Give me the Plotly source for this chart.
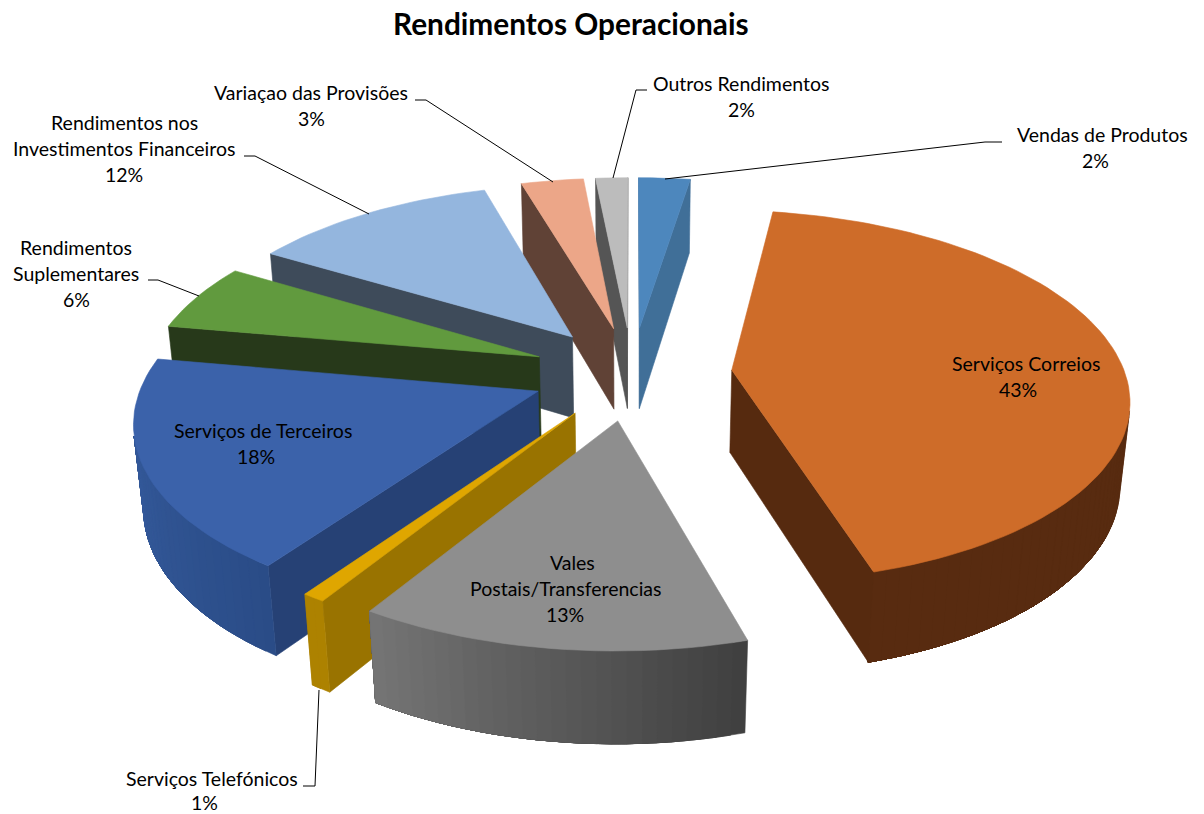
import math
import plotly.graph_objects as go

# --- data ---
categories = ["Vendas de Produtos", "Serviços Correios", "Vales Postais/Transferencias",
              "Serviços Telefónicos", "Serviços de Terceiros", "Rendimentos Suplementares",
              "Rendimentos nos Investimentos Financeiros", "Variaçao das Provisões", "Outros Rendimentos"]
values = [2.48, 43.22, 13.45, 0.8, 18.2, 5.85, 11.9, 3.0, 1.55]
label_lines = [["Vendas de Produtos"], ["Serviços Correios"], ["Vales", "Postais/Transferencias"],
               ["Serviços Telefónicos"], ["Serviços de Terceiros"], ["Rendimentos", "Suplementares"],
               ["Rendimentos nos", "Investimentos Financeiros"], ["Variaçao das Provisões"], ["Outros Rendimentos"]]

# --- style ---
top_colors = ["#4d87bd", "#ce6c29", "#8e8e8e", "#dfa600", "#3b62aa", "#619a3e", "#94b6de", "#eca688", "#bcbcbc"]
end_wall = ["#406f98", "#562a0f", "#555555", "#997300", "#264175", "#27391a", "#3e4b5a", "#604236", "#555555"]
start_wall = ["#406f98", "#562a0f", "#555555", "#997300", "#264175", "#27391a", "#3e4b5a", "#604236", "#555555"]
outer_from = ["#406f98", "#582b10", "#3f3f3f", "#ad8200", "#2a4c87", "#27391a", "#3e4b5a", "#604236", "#555555"]
outer_to = ["#406f98", "#582b10", "#757575", "#ad8200", "#3a61a5", "#27391a", "#3e4b5a", "#604236", "#555555"]
# centre of each text line, the percentage last
label_xy = [[(1102, 134), (1095, 160)], [(1026, 363), (1018, 389)], [(572, 562), (565, 588), (565, 614)],
            [(212, 778), (204, 802)], [(263, 430), (256, 456)], [(76, 247), (76, 273), (76, 299)],
            [(124, 122), (124, 148), (124, 174)], [(311, 92), (311, 118)], [(741, 83), (741, 109)]]
leaders = [[(665, 179), (985, 142), (1002, 142)], None, None, [(319, 690), (315, 786), (303, 786)], None,
           [(199, 296), (158, 280), (148, 280)], [(369, 214), (255, 156), (244, 156)],
           [(553, 182), (426, 100), (415, 100)], [(613, 178), (636, 90), (647, 90)]]
FONT = "Lato"
FS = 19.5

# --- projection ---
CX, CY, A, B, K, KZ, H, EXPL = 632, 373, 393, 183, 0.14, 0.02, 84, 0.255


def proj(X, Y, low=False):
    w = 1 / (1 + K * Y + (KZ if low else 0))
    return CX + A * X * w, CY - B * Y * w + (H * w if low else 0)


def mix(c1, c2, t):
    a = [int(c1[i:i + 2], 16) for i in (1, 3, 5)]
    b = [int(c2[i:i + 2], 16) for i in (1, 3, 5)]
    return "#%02x%02x%02x" % tuple(round(p + (q - p) * t) for p, q in zip(a, b))


def area(pts):
    return sum(pts[i][0] * pts[(i + 1) % len(pts)][1] - pts[(i + 1) % len(pts)][0] * pts[i][1]
               for i in range(len(pts))) / 2


fig = go.Figure()


def poly(pts, color):
    fig.add_trace(go.Scatter(x=[p[0] for p in pts] + [pts[0][0]], y=[p[1] for p in pts] + [pts[0][1]],
                             mode="lines", fill="toself", fillcolor=color,
                             line=dict(color=color, width=0.6), hoverinfo="skip", showlegend=False))


total = sum(values)
starts = []
acc = 0
for v in values:
    starts.append(acc)
    acc += v

order = sorted(range(len(values)),
               key=lambda i: -math.cos(2 * math.pi * (starts[i] + values[i] / 2) / total))
for i in order:
    t0 = 2 * math.pi * starts[i] / total
    t1 = 2 * math.pi * (starts[i] + values[i]) / total
    tm = (t0 + t1) / 2
    ox, oy = EXPL * math.sin(tm), EXPL * math.cos(tm)
    n = max(2, int(values[i] * 2))
    ang = [t0 + (t1 - t0) * k / n for k in range(n + 1)]
    world = [(ox + math.sin(a), oy + math.cos(a)) for a in ang]
    top = [proj(*w) for w in world]
    low = [proj(*w, low=True) for w in world]
    atop, alow = proj(ox, oy), proj(ox, oy, low=True)
    # radial walls, drawn only when they face the viewer
    w_start = [atop, top[0], low[0], alow]
    w_end = [top[-1], atop, alow, low[-1]]
    if area(w_start) < 0:
        poly(w_start, start_wall[i])
    if area(w_end) < 0:
        poly(w_end, end_wall[i])
    # outer wall: each band runs to the end of the arc, so the next one overlaps it without a seam
    visible = [k for k in range(n) if area([top[k], top[k + 1], low[k + 1], low[k]]) < 0]
    for k in visible:
        rest = [j for j in range(k, n + 1) if j in visible or j - 1 in visible]
        poly([top[j] for j in rest] + [low[j] for j in reversed(rest)],
             mix(outer_from[i], outer_to[i], (k + 0.5) / n))
    poly([atop] + top, top_colors[i])

annotations = [dict(x=571, y=23, text="<b>Rendimentos Operacionais</b>", showarrow=False,
                    font=dict(family=FONT, size=29.8, color="#000000"), xanchor="center", yanchor="middle")]
for i, lines in enumerate(label_lines):
    pct = f"{round(values[i] / total * 100)}%"
    for (x, y), line in zip(label_xy[i], lines + [pct]):
        annotations.append(dict(x=x, y=y, text=line, showarrow=False, xanchor="center", yanchor="middle",
                                font=dict(family=FONT, size=FS, color="#000000")))
    if leaders[i]:
        fig.add_trace(go.Scatter(x=[p[0] for p in leaders[i]], y=[p[1] for p in leaders[i]], mode="lines",
                                 line=dict(color="#000000", width=1), hoverinfo="skip", showlegend=False))

fig.update_layout(width=1204, height=814, margin=dict(l=0, r=0, t=0, b=0), paper_bgcolor="#ffffff",
                  plot_bgcolor="#ffffff", annotations=annotations, showlegend=False,
                  xaxis=dict(range=[0, 1204], visible=False, fixedrange=True),
                  yaxis=dict(range=[814, 0], visible=False, fixedrange=True))
fig.write_html("out.html", config=dict(displayModeBar=False),
               post_script="document.body.style.margin='0';document.documentElement.style.overflow='hidden';")
